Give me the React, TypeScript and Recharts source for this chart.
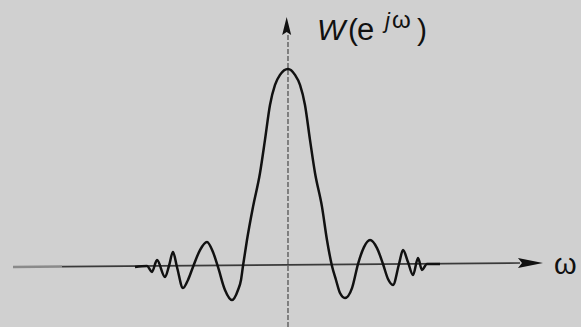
import React from "react";
import {
  LineChart,
  Line,
  XAxis,
  YAxis,
  ReferenceLine,
  Scatter,
} from "recharts";

// Frequency (ω, in units of the main-lobe half width) and window spectrum W(e^{jω}) (normalised to peak = 1)
const omega: number[] = [
  -3.477, -3.205, -3.091, -2.977, -2.795, -2.705, -2.614, -2.523, -2.386, -2.273,
  -2.159, -2.0, -1.841, -1.705, -1.591, -1.432, -1.273, -1.136, -1.068, -1.023,
  -0.932, -0.795, -0.636, -0.523, -0.409, -0.295, -0.182, 0, 0.159, 0.273,
  0.386, 0.5, 0.614, 0.773, 0.886, 1.0, 1.091, 1.182, 1.295, 1.455,
  1.591, 1.727, 1.864, 2.023, 2.159, 2.273, 2.386, 2.523, 2.614, 2.727,
  2.841, 2.955, 3.045, 3.159, 3.455,
];
const W: number[] = [
  -0.005, 0, -0.03, 0.03, -0.056, 0, 0.071, -0.005, -0.112, -0.071,
  -0.005, 0.081, 0.122, 0.071, -0.005, -0.122, -0.173, -0.122, -0.071, 0,
  0.132, 0.3, 0.472, 0.64, 0.817, 0.919, 0.97, 1.0, 0.97, 0.919,
  0.817, 0.64, 0.472, 0.3, 0.132, 0, -0.071, -0.137, -0.162, -0.112,
  0.01, 0.096, 0.132, 0.091, 0.01, -0.066, -0.096, 0.01, 0.081, 0.02,
  -0.046, 0.041, -0.02, 0.01, 0.01,
];

// axis extents (data units)
const xDomain: [number, number] = [-6.545, 6.659];
const yDomain: [number, number] = [-0.3096, 1.35];
const hAxisFaint = [{ x: -6.25, y: -0.005 }, { x: -5.136, y: -0.003 }];
const hAxis = [{ x: -5.136, y: -0.003 }, { x: 5.273, y: 0.015 }];
const hArrowTip = [{ x: 5.795, y: 0.015 }];
const vAxis = [{ x: 0, y: -0.3096 }, { x: 0, y: 1.173 }];
const vArrowTip = [{ x: -0.03, y: 1.264 }];

const data = omega.map((x, i) => ({ x, w: W[i] }));

const RightArrow = (props: any) => {
  const { cx, cy } = props;
  if (cx == null || cy == null) return null;
  return (
    <path
      d={`M${cx},${cy} L${cx - 25},${cy - 5} L${cx - 21},${cy} L${cx - 25},${cy + 5} Z`}
      fill="#111"
    />
  );
};

const UpArrow = (props: any) => {
  const { cx, cy } = props;
  if (cx == null || cy == null) return null;
  return (
    <path
      d={`M${cx},${cy} L${cx - 4.5},${cy + 18} L${cx},${cy + 15} L${cx + 4.5},${cy + 18} Z`}
      fill="#111"
    />
  );
};

export default function App() {
  return (
    <div
      style={{
        position: "absolute",
        left: 0,
        top: 0,
        width: 581,
        height: 327,
        background: "#d0d0d0",
        overflow: "hidden",
      }}
    >
      <LineChart
        width={581}
        height={327}
        data={data}
        margin={{ top: 0, right: 0, bottom: 0, left: 0 }}
      >
        <XAxis
          dataKey="x"
          type="number"
          domain={xDomain}
          allowDataOverflow
          hide
        />
        <YAxis type="number" domain={yDomain} allowDataOverflow hide />
        <ReferenceLine
          segment={hAxisFaint}
          stroke="#8a8a8a"
          strokeWidth={2.5}
          ifOverflow="visible"
        />
        <ReferenceLine
          segment={hAxis}
          stroke="#3a3a3a"
          strokeWidth={1.6}
          ifOverflow="visible"
        />
        <ReferenceLine
          segment={vAxis}
          stroke="#555"
          strokeWidth={1.3}
          strokeDasharray="5 2"
          ifOverflow="visible"
        />
        <Line
          dataKey="w"
          type="monotone"
          stroke="#111"
          strokeWidth={2.5}
          dot={false}
          activeDot={false}
          legendType="none"
          isAnimationActive={false}
        />
        <Scatter
          data={hArrowTip}
          dataKey="y"
          shape={RightArrow}
          activeShape={RightArrow}
          legendType="none"
          isAnimationActive={false}
        />
        <Scatter
          data={vArrowTip}
          dataKey="y"
          shape={UpArrow}
          activeShape={UpArrow}
          legendType="none"
          isAnimationActive={false}
        />
      </LineChart>
      <svg
        width={581}
        height={327}
        style={{ position: "absolute", left: 0, top: 0, pointerEvents: "none" }}
      >
        <text
          y={40}
          fontFamily="'Liberation Sans', Arial, sans-serif"
          fontSize={30}
          fill="#111"
        >
          <tspan x={317} fontStyle="italic">W</tspan>
          <tspan x={348}>(</tspan>
          <tspan x={357} fontSize={31}>e</tspan>
          <tspan x={385} dy={-12} fontSize={22} fontStyle="italic">j</tspan>
          <tspan x={392} fontSize={24}>ω</tspan>
          <tspan x={417} dy={12}>)</tspan>
        </text>
        <text
          x={554}
          y={274}
          fontFamily="'Liberation Sans', Arial, sans-serif"
          fontSize={29}
          fill="#111"
        >
          ω
        </text>
      </svg>
    </div>
  );
}
